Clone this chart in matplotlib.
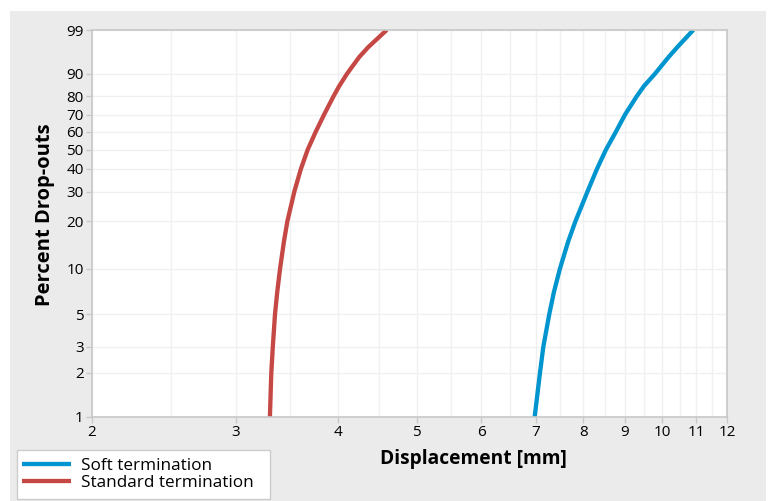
import numpy as np
import matplotlib.pyplot as plt
from matplotlib.patches import Rectangle
from matplotlib.ticker import NullFormatter, NullLocator

plt.rcParams.update({"font.family": ["Open Sans", "DejaVu Sans"], "font.size": 11})

# cumulative drop-out percentage and the displacement [mm] at which it is reached
pct = [1, 2, 3, 5, 7, 10, 15, 20, 30, 40, 50, 60, 70, 80, 85, 90, 95, 97, 99]
soft = [6.974, 7.079, 7.146, 7.268, 7.363, 7.490, 7.668, 7.825, 8.095, 8.315, 8.529, 8.768,
        8.998, 9.300, 9.495, 9.793, 10.174, 10.429, 10.911]
standard = [3.304, 3.317, 3.331, 3.352, 3.373, 3.400, 3.438, 3.471, 3.540, 3.606, 3.676, 3.759,
            3.849, 3.953, 4.018, 4.107, 4.250, 4.360, 4.594]

x_ticks = [2, 3, 4, 5, 6, 7, 8, 9, 10, 11, 12]
x_grid = [2.5, 3.5, 4.5, 5.5, 6.5, 7.5, 8.5, 9.5, 10.5, 11.5]
y_ticks = [1, 2, 3, 5, 10, 20, 30, 40, 50, 60, 70, 80, 90, 99]


# Weibull probability paper: y = ln(-ln(1 - F))
def weibull_fwd(p):
    p = np.clip(np.asarray(p, dtype=float), 1e-6, 100 - 1e-6)
    return np.log(-np.log(1 - p / 100))


def weibull_inv(y):
    return 100 * (1 - np.exp(-np.exp(y)))


W, H = 770, 501
fig = plt.figure(figsize=(W / 100, H / 100), dpi=100)
fig.add_artist(Rectangle((10 / W, 0), 756 / W, 490 / H, transform=fig.transFigure,
                         facecolor="#ebebeb", edgecolor="none", zorder=-5))

ax = fig.add_axes([92 / W, 84 / H, 635 / W, 387 / H])
ax.set_facecolor("white")
ax.set_xscale("log")
ax.set_yscale("function", functions=(weibull_fwd, weibull_inv))

ax.plot(soft, pct, color="#0095cf", lw=3.1, label="Soft termination", solid_capstyle="butt")
ax.plot(standard, pct, color="#c54845", lw=3.1, label="Standard termination", solid_capstyle="butt")

ax.set_xlim(2, 12)
ax.set_ylim(1, 99)

ax.set_xticks(x_ticks, labels=[str(t) for t in x_ticks])
ax.set_xticks(x_grid, minor=True)
ax.xaxis.set_minor_formatter(NullFormatter())
ax.set_yticks(y_ticks, labels=[str(t) for t in y_ticks])
ax.yaxis.set_minor_locator(NullLocator())

ax.grid(which="both", color="#f0f0f0", lw=1)
ax.set_axisbelow(True)
ax.tick_params(which="major", length=4, color="#c8c8c8", width=1, labelsize=11, pad=2)
ax.tick_params(which="minor", length=0)
for sp in ax.spines.values():
    sp.set_color("#c8c8c8")
    sp.set_linewidth(1.2)

ax.set_xlabel("Displacement [mm]", fontsize=13.8, fontweight="bold")
ax.xaxis.set_label_coords((473 - 92) / 635, (417 - 459) / 387)
ax.xaxis.label.set_va("center")
ax.set_ylabel("Percent Drop-outs", fontsize=14.5, fontweight="bold")
ax.yaxis.set_label_coords((45 - 92) / 635, (417 - 215) / 387)
ax.yaxis.label.set_va("center")

# legend box in the lower-left corner of the panel
fig.add_artist(Rectangle((17 / W, 2 / H), 253 / W, 49 / H, transform=fig.transFigure,
                         facecolor="white", edgecolor="#cccccc", lw=1, zorder=2))
leg = fig.legend(loc="lower left", bbox_to_anchor=(17 / W, 5 / H), fontsize=12.3,
                 frameon=False, handlelength=2.85, handletextpad=0.6,
                 borderpad=0.3, labelspacing=0.05, borderaxespad=0)
leg.set_zorder(3)

fig.savefig("out.png", dpi=100)
